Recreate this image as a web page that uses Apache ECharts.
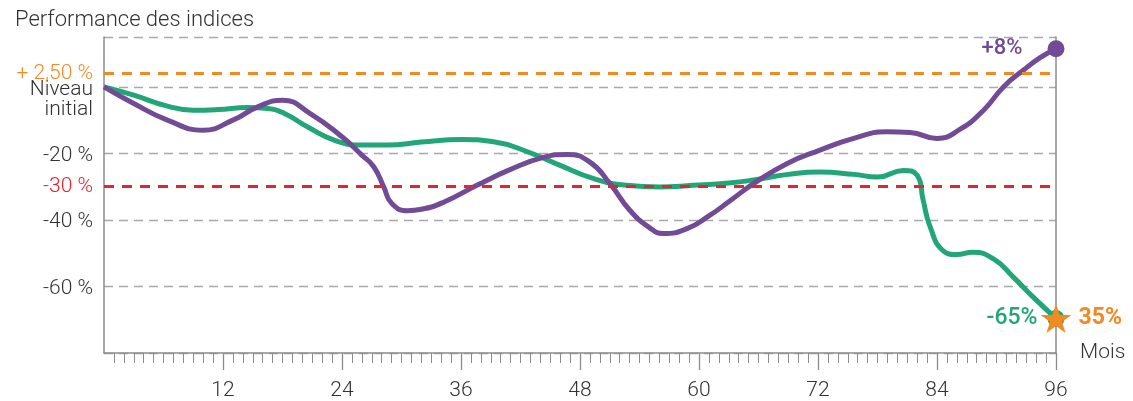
<!DOCTYPE html>
<html>
<head>
<meta charset="utf-8">
<script src="https://cdn.jsdelivr.net/npm/echarts@6/dist/echarts.min.js"></script>
<style>
html,body{margin:0;padding:0;background:#fff;}
#chart{width:1133px;height:401px;}
</style>
</head>
<body>
<div id="chart"></div>
<script>
const titleText = 'Performance des indices';
const xTickLabels = [12, 24, 36, 48, 60, 72, 84, 96];
const yTickValues = [0, -20, -40, -60];
const purpleMonths = [0, 3, 6.4, 10, 13, 15.5, 18, 20.8, 24, 26, 27.2, 28.2, 29, 30.6, 32, 34.3, 37.6, 41, 44.3, 46.7, 49, 51, 53, 55, 56.4, 58.8, 61, 63.1, 65.5, 68.9, 72.2, 75.6, 78.9, 81.3, 84, 86.3, 88.7, 90.7, 92.7, 94.4, 96];
const purpleValues = [0, -5, -10, -13, -10, -6, -4, -8, -15, -20.5, -24, -30, -35, -37.2, -36.8, -34.6, -29.6, -24.8, -21.2, -20.3, -22.6, -29, -37, -42.3, -44.1, -42.6, -38.8, -34.3, -29.1, -23, -19, -15.5, -13.5, -13.7, -15.5, -12.8, -7, 0, 5, 8.8, 11.5];
const greenMonths = [0, 3, 6.4, 9, 11.5, 14.5, 16.5, 18.2, 20.5, 23.2, 26, 28.6, 32, 36, 39.3, 42.7, 46, 49.4, 52.7, 56, 59.4, 63, 65.5, 69, 72.2, 75.6, 78, 80.6, 82, 82.6, 83.3, 84.6, 86, 87.6, 89.7, 91.7, 93.7, 96];
const greenValues = [0, -2.5, -5.8, -7, -6.8, -6.2, -6.5, -8, -12, -16, -17.5, -17.5, -16.6, -15.8, -16.5, -19.5, -23.6, -27.6, -29.6, -30.1, -29.6, -28.9, -28, -26.3, -25.6, -26.3, -27.1, -25.1, -26.6, -34, -42, -49.2, -50.4, -49.7, -51.7, -57.2, -63.2, -69.6];
const refLines = [
  { value: 4, label: '+ 2,50 %', color: '#f28a22' },
  { value: -30, label: '-30 %', color: '#e8232b' }
];
const endLabels = { purple: '+8%', green: '-65%', star: '35%' };

const PURPLE = '#724b96', GREEN = '#22a678', ORANGE = '#f28a22', TXT = '#333333', AX = '#8c8c8c';
const FONT = 'Roboto, "Liberation Sans", sans-serif';

const purpleData = purpleMonths.map((m, i) => [m, purpleValues[i]]);
const greenData = greenMonths.map((m, i) => [m, greenValues[i]]);
const pLast = purpleData[purpleData.length - 1];
const gLast = greenData[greenData.length - 1];
const starPath = 'path://M50,0 L61.8,35.3 L98.5,35.3 L68.8,57.1 L79.9,92.3 L50,70.6 L20.1,92.3 L31.2,57.1 L1.5,35.3 L38.2,35.3 Z';

const chart = echarts.init(document.getElementById('chart'), null, { renderer: 'canvas' });
chart.setOption({
  animation: false,
  backgroundColor: '#fff',
  textStyle: { fontFamily: FONT },
  title: {
    text: titleText, left: 10, top: 4,
    textStyle: { fontFamily: FONT, fontWeight: 300, fontSize: 22, color: TXT }
  },
  grid: { left: 104, right: 77, top: 37, bottom: 48 },
  xAxis: {
    type: 'value', min: 0, max: 96, interval: 12,
    name: 'Mois', nameLocation: 'end', nameGap: 24,
    nameTextStyle: { fontFamily: FONT, fontWeight: 300, fontSize: 21, color: TXT, align: 'left', verticalAlign: 'middle', padding: [10, 0, 0, 0] },
    axisLine: { show: true, onZero: false, lineStyle: { color: AX, width: 1.5 } },
    axisTick: { show: true, customValues: xTickLabels, length: 17, lineStyle: { color: AX, width: 1.3 } },
    minorTick: { show: true, splitNumber: 12, length: 10, lineStyle: { color: AX, width: 1 } },
    axisLabel: { customValues: xTickLabels, margin: 27, fontFamily: FONT, fontWeight: 300, fontSize: 21, color: TXT },
    splitLine: { show: false }
  },
  yAxis: [{
    type: 'value', min: -80, max: 15, interval: 20,
    axisLine: { show: true, onZero: false, lineStyle: { color: AX, width: 1.5 } },
    axisTick: { show: false },
    splitLine: { show: true, lineStyle: { color: '#a9a9a9', width: 1.3, type: [9, 6] } },
    axisLabel: {
      margin: 11, fontFamily: FONT, fontWeight: 300, fontSize: 21, color: TXT, align: 'right',
      formatter: function (v) {
        if (v === 0) return '{s|\u00a0}\n{a|Niveau}\n{a|initial}';
        if (yTickValues.indexOf(v) >= 0) return '{b|' + v + ' %}';
        return '';
      },
      rich: {
        s: { lineHeight: 26, height: 26, fontSize: 12 },
        a: { lineHeight: 20, height: 20, fontSize: 21, fontWeight: 300, color: TXT, fontFamily: FONT, align: 'right' },
        b: { fontSize: 21, fontWeight: 300, color: TXT, fontFamily: FONT, align: 'right', padding: [4, 0, 0, 0] }
      }
    }
  }, {
    type: 'value', min: -80, max: 15, position: 'right',
    axisLine: { show: true, onZero: false, lineStyle: { color: AX, width: 1.5 } },
    axisTick: { show: false }, axisLabel: { show: false }, splitLine: { show: false }
  }],
  series: [
    {
      type: 'line', name: 'ref', data: [], silent: true,
      markLine: {
        silent: true, symbol: 'none',
        data: refLines.map(r => ({
          yAxis: r.value,
          lineStyle: { color: r.color, width: 3, type: [10, 8] },
          label: { show: true, position: 'start', distance: 11, formatter: r.label, color: r.color, fontFamily: FONT, fontWeight: 300, fontSize: 21 }
        }))
      }
    },
    {
      type: 'line', name: 'green', data: greenData, smooth: 0.5,
      showSymbol: false, lineStyle: { color: GREEN, width: 5 }, itemStyle: { color: GREEN }, z: 3,
      markPoint: {
        silent: true,
        data: [
          { coord: gLast, symbol: 'circle', symbolSize: 17, itemStyle: { color: GREEN },
            label: { show: true, position: 'left', distance: 10, formatter: endLabels.green, color: GREEN, fontFamily: FONT, fontWeight: 500, fontSize: 23 } },
          { coord: gLast, symbol: starPath, symbolSize: [31, 29], itemStyle: { color: ORANGE },
            label: { show: true, position: 'right', distance: 7, formatter: endLabels.star, color: ORANGE, fontFamily: FONT, fontWeight: 'bold', fontSize: 23 } }
        ]
      }
    },
    {
      type: 'line', name: 'purple', data: purpleData, smooth: 0.5,
      showSymbol: false, lineStyle: { color: PURPLE, width: 5 }, itemStyle: { color: PURPLE }, z: 4,
      markPoint: {
        silent: true,
        data: [
          { coord: pLast, symbol: 'circle', symbolSize: 17, itemStyle: { color: PURPLE },
            label: { show: true, position: 'left', distance: 25, formatter: endLabels.purple, color: PURPLE, fontFamily: FONT, fontWeight: 500, fontSize: 22 } }
        ]
      }
    }
  ]
});
</script>
</body>
</html>
